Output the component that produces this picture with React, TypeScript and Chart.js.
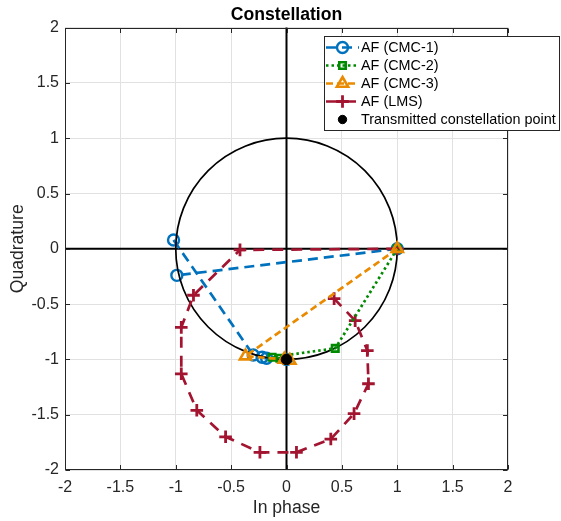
import { useEffect, useRef } from "react";
import { Chart, registerables } from "chart.js";

Chart.register(...registerables);

// ---- data ----
const tickValues = [-2, -1.5, -1, -0.5, 0, 0.5, 1, 1.5, 2];
const tickLabels = ["-2", "-1.5", "-1", "-0.5", "0", "0.5", "1", "1.5", "2"];

const seriesLabels = [
  "AF (CMC-1)",
  "AF (CMC-2)",
  "AF (CMC-3)",
  "AF (LMS)",
  "Transmitted constellation point",
];

const cmc1X = [1, -0.99, -1.02, -0.3, -0.22, -0.18, 0];
const cmc1Y = [0, -0.24, 0.08, -0.96, -0.98, -0.99, -1];

const cmc2X = [1, 0.44, -0.13, -0.06, 0];
const cmc2Y = [0, -0.9, -0.98, -0.99, -1];

const cmc3X = [1, -0.37, -0.02, 0.03];
const cmc3Y = [0, -0.97, -1.0, -1.01];

const lmsX = [1, -0.42, -0.84, -0.95, -0.95, -0.81, -0.55, -0.24, 0.09, 0.4, 0.61, 0.74, 0.73, 0.62, 0.43];
const lmsY = [0, -0.01, -0.42, -0.71, -1.13, -1.46, -1.7, -1.84, -1.84, -1.72, -1.49, -1.22, -0.92, -0.65, -0.45];

const txX = [0];
const txY = [-1];

const unitCircleRadius = 1;
const axisCenter = 0;

const FONT = "'Liberation Sans', Arial, Helvetica, sans-serif";
const AXIS_COLOR = "#262626";

const pts = (xs: number[], ys: number[]) => xs.map((x, i) => ({ x, y: ys[i] }));

function drawMarker(
  ctx: CanvasRenderingContext2D,
  style: string,
  x: number,
  y: number,
  r: number,
  color: string,
  lw: number,
  fill: string
) {
  ctx.save();
  ctx.setLineDash([]);
  ctx.strokeStyle = color;
  ctx.fillStyle = fill;
  ctx.lineWidth = lw;
  ctx.beginPath();
  if (style === "circle") {
    ctx.arc(x, y, r, 0, Math.PI * 2);
  } else if (style === "rect") {
    const s = r * Math.SQRT1_2;
    ctx.rect(x - s, y - s, 2 * s, 2 * s);
  } else if (style === "triangle") {
    let a = 0;
    ctx.moveTo(x + Math.sin(a) * r, y - Math.cos(a) * r);
    a += (2 * Math.PI) / 3;
    ctx.lineTo(x + Math.sin(a) * r, y - Math.cos(a) * r);
    a += (2 * Math.PI) / 3;
    ctx.lineTo(x + Math.sin(a) * r, y - Math.cos(a) * r);
    ctx.closePath();
  } else if (style === "cross") {
    ctx.moveTo(x - r, y);
    ctx.lineTo(x + r, y);
    ctx.moveTo(x, y - r);
    ctx.lineTo(x, y + r);
  }
  ctx.fill();
  ctx.stroke();
  ctx.restore();
}

const decorPlugin = {
  id: "matlabDecor",
  beforeDatasetsDraw(chart: any) {
    const { ctx, chartArea: a, scales } = chart;
    const x0 = scales.x.getPixelForValue(axisCenter);
    const y0 = scales.y.getPixelForValue(axisCenter);
    ctx.save();
    ctx.strokeStyle = "#000";
    ctx.lineWidth = 2;
    ctx.beginPath();
    ctx.moveTo(a.left, y0);
    ctx.lineTo(a.right, y0);
    ctx.moveTo(x0, a.top);
    ctx.lineTo(x0, a.bottom);
    ctx.stroke();
    ctx.restore();
  },
  afterDatasetDraw(chart: any, args: any) {
    if (args.index !== 0) return;
    const { ctx, scales } = chart;
    const cx = scales.x.getPixelForValue(axisCenter);
    const cy = scales.y.getPixelForValue(axisCenter);
    const rx = scales.x.getPixelForValue(unitCircleRadius) - cx;
    const ry = cy - scales.y.getPixelForValue(unitCircleRadius);
    ctx.save();
    ctx.strokeStyle = "#000";
    ctx.lineWidth = 1.7;
    ctx.beginPath();
    ctx.ellipse(cx, cy, rx, ry, 0, 0, Math.PI * 2);
    ctx.stroke();
    ctx.restore();
  },
  afterDraw(chart: any) {
    const { ctx, chartArea: a, scales } = chart;
    // frame with inward ticks on all four sides
    ctx.save();
    ctx.strokeStyle = AXIS_COLOR;
    ctx.lineWidth = 1;
    ctx.setLineDash([]);
    const L = Math.round(a.left) + 0.5;
    const R = Math.round(a.right) - 0.5;
    const T = Math.round(a.top) + 0.5;
    const B = Math.round(a.bottom) - 0.5;
    ctx.strokeRect(L, T, R - L, B - T);
    const tl = 4.5;
    ctx.beginPath();
    tickValues.forEach((v) => {
      const px = Math.round(scales.x.getPixelForValue(v)) + 0.5;
      ctx.moveTo(px, B);
      ctx.lineTo(px, B - tl);
      ctx.moveTo(px, T);
      ctx.lineTo(px, T + tl);
      const py = Math.round(scales.y.getPixelForValue(v)) + 0.5;
      ctx.moveTo(L, py);
      ctx.lineTo(L + tl, py);
      ctx.moveTo(R, py);
      ctx.lineTo(R - tl, py);
    });
    ctx.stroke();
    ctx.restore();

    // legend box
    const bx = 324.5;
    const by = 36.5;
    const bw = 235;
    const bh = 94;
    ctx.save();
    ctx.fillStyle = "#fff";
    ctx.fillRect(bx, by, bw, bh);
    ctx.strokeStyle = AXIS_COLOR;
    ctx.lineWidth = 1;
    ctx.strokeRect(bx, by, bw, bh);
    const ds = chart.data.datasets;
    ds.forEach((d: any, i: number) => {
      const y = 47.5 + i * 18;
      const x1 = 326;
      const x2 = 359;
      const mx = (x1 + x2) / 2;
      if (d.showLine) {
        ctx.save();
        ctx.strokeStyle = d.borderColor;
        ctx.lineWidth = d.borderWidth;
        ctx.setLineDash(d.borderDash || []);
        ctx.beginPath();
        ctx.moveTo(x1, y);
        ctx.lineTo(x2, y);
        ctx.stroke();
        ctx.restore();
      }
      const r = d.showLine ? d.pointRadius : 4.2;
      drawMarker(ctx, d.pointStyle, mx, y, r, d.pointBorderColor, d.pointBorderWidth, d.pointBackgroundColor);
      ctx.fillStyle = "#000";
      ctx.font = `14.4px ${FONT}`;
      ctx.textAlign = "left";
      ctx.textBaseline = "middle";
      ctx.fillText(d.label, 361, y + 0.5);
    });
    ctx.restore();
  },
};

export default function App() {
  const canvasRef = useRef<HTMLCanvasElement | null>(null);

  useEffect(() => {
    const canvas = canvasRef.current;
    if (!canvas) return;

    const blue = "#0072BD";
    const green = "#008A00";
    const orange = "#EA8A00";
    const red = "#A2142F";

    const chart = new Chart(canvas, {
      type: "scatter",
      data: {
        datasets: [
          {
            label: seriesLabels[0],
            data: pts(cmc1X, cmc1Y),
            showLine: true,
            borderColor: blue,
            borderWidth: 2.7,
            borderDash: [10, 6],
            segment: {
              borderColor: (c: any) => (c.p0DataIndex === 1 ? "rgba(0,0,0,0)" : blue),
            },
            pointStyle: "circle",
            pointRadius: 5.5,
            pointBorderWidth: 2.4,
            pointBorderColor: blue,
            pointBackgroundColor: "rgba(0,0,0,0)",
            order: 6,
          },
          {
            label: seriesLabels[1],
            data: pts(cmc2X, cmc2Y),
            showLine: true,
            borderColor: green,
            borderWidth: 2.7,
            borderDash: [2.5, 3],
            pointStyle: "rect",
            pointRadius: 4.6,
            pointBorderWidth: 2.6,
            pointBorderColor: green,
            pointBackgroundColor: "rgba(0,0,0,0)",
            order: 4,
          },
          {
            label: seriesLabels[2],
            data: pts(cmc3X, cmc3Y),
            showLine: true,
            borderColor: orange,
            borderWidth: 2.7,
            borderDash: [7, 4],
            pointStyle: "triangle",
            pointRadius: 6.5,
            pointBorderWidth: 2.6,
            pointBorderColor: orange,
            pointBackgroundColor: "rgba(0,0,0,0)",
            order: 3,
          },
          {
            label: seriesLabels[3],
            data: pts(lmsX, lmsY),
            showLine: true,
            borderColor: red,
            borderWidth: 2.7,
            borderDash: [11, 8],
            pointStyle: "cross",
            pointRadius: 6.3,
            pointBorderWidth: 2.8,
            pointBorderColor: red,
            pointBackgroundColor: "rgba(0,0,0,0)",
            order: 5,
          },
          {
            label: seriesLabels[4],
            data: pts(txX, txY),
            showLine: false,
            borderColor: "#000",
            borderWidth: 1,
            pointStyle: "circle",
            pointRadius: 5.3,
            pointBorderWidth: 1,
            pointBorderColor: "#000",
            pointBackgroundColor: "#000",
            order: 1,
          },
        ],
      } as any,
      options: {
        responsive: false,
        animation: false,
        devicePixelRatio: 1,
        layout: { padding: { left: 0, right: 53, top: 0, bottom: 0 } },
        plugins: {
          legend: { display: false },
          tooltip: { enabled: false },
          title: {
            display: true,
            text: "Constellation",
            color: "#000",
            font: { family: FONT, size: 17.6, weight: "bold" },
            padding: { top: 4.5, bottom: 2 },
            fullSize: false,
          } as any,
        },
        scales: {
          x: {
            type: "linear",
            position: "bottom",
            min: -2,
            max: 2,
            afterBuildTicks: (s: any) => {
              s.ticks = tickValues.map((v) => ({ value: v }));
            },
            afterFit: (s: any) => {
              s.height = 51;
            },
            grid: { color: "#e1e1e1", lineWidth: 1, drawTicks: false },
            border: { display: false },
            ticks: {
              padding: 7.5,
              color: AXIS_COLOR,
              font: { family: FONT, size: 16 },
              callback: (v: any) => tickLabels[tickValues.indexOf(Number(v))] ?? "",
            },
            title: {
              display: true,
              text: "In phase",
              color: AXIS_COLOR,
              font: { family: FONT, size: 17.6 },
              padding: { top: 0, bottom: 2 },
            },
          },
          y: {
            type: "linear",
            position: "left",
            min: -2,
            max: 2,
            afterBuildTicks: (s: any) => {
              s.ticks = tickValues.map((v) => ({ value: v }));
            },
            afterFit: (s: any) => {
              s.width = 65;
            },
            grid: { color: "#e1e1e1", lineWidth: 1, drawTicks: false },
            border: { display: false },
            ticks: {
              padding: 6,
              color: AXIS_COLOR,
              font: { family: FONT, size: 16 },
              callback: (v: any) => tickLabels[tickValues.indexOf(Number(v))] ?? "",
            },
            title: {
              display: true,
              text: "Quadrature",
              color: AXIS_COLOR,
              font: { family: FONT, size: 17.6 },
              padding: { top: 7.5, bottom: 0 },
            },
          },
        },
      } as any,
      plugins: [decorPlugin as any],
    });

    return () => chart.destroy();
  }, []);

  return (
    <div style={{ position: "fixed", left: 0, top: 0, width: 561, height: 521, background: "#fff" }}>
      <canvas ref={canvasRef} width={561} height={521} style={{ display: "block" }} />
    </div>
  );
}
